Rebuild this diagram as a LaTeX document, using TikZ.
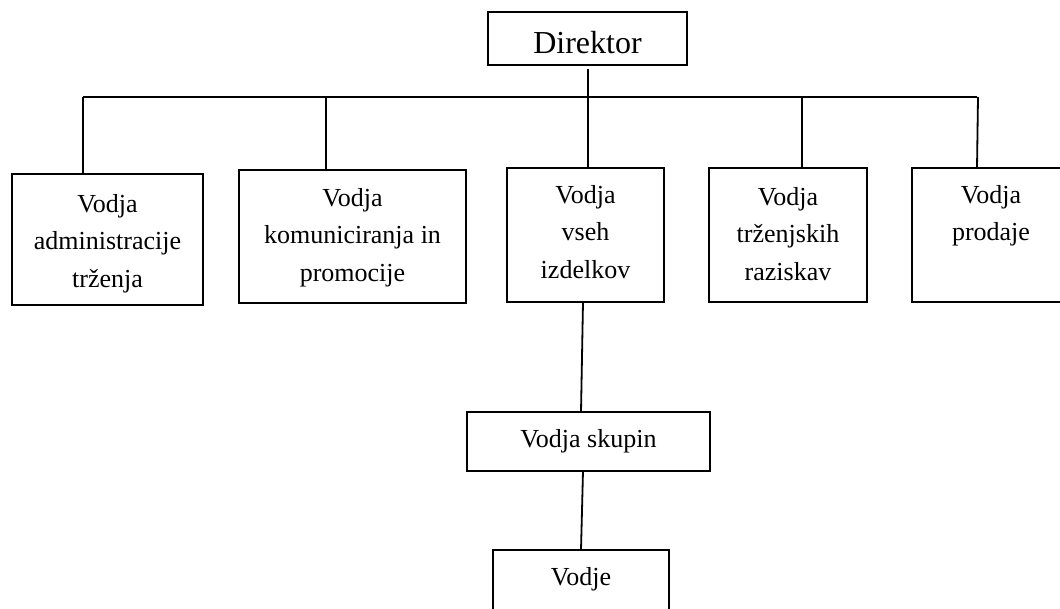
\documentclass[tikz,border=0pt]{standalone}
\usepackage{fontspec}
\setmainfont{Liberation Serif}
\usetikzlibrary{calc}
% box content: width, height, first-baseline drop, text
\newcommand{\orgtext}[4]{\parbox[c][#2][t]{#1}{\centering\fontsize{26}{37.5}\selectfont\rule{0pt}{#3}#4}}
\begin{document}
\begin{tikzpicture}[x=1pt,y=-1pt,
  orgbox/.style={draw,line width=1.8pt,inner sep=0pt,outer sep=0pt},
  link/.style={line width=1.8pt}]
\useasboundingbox (0,0) rectangle (1060,608);
\fill[white] (0,0) rectangle (1060,608);

% top of the chart
\node[orgbox] (dir) at (587.5,38.5)
  {\parbox[c][53pt][t]{199pt}{\centering\fontsize{32}{38}\selectfont\rule{0pt}{41pt}Direktor}};

% second level
\node[orgbox] (admin) at (107.5,239.5) {\orgtext{191pt}{131pt}{38pt}{Vodja\\administracije\\trženja}};
\node[orgbox] (komun) at (352.5,236.5) {\orgtext{227pt}{133pt}{36pt}{Vodja\\komuniciranja in\\promocije}};
\node[orgbox] (izdel) at (585.5,235) {\orgtext{157pt}{134pt}{35pt}{Vodja\\vseh\\izdelkov}};
\node[orgbox] (razis) at (788,235) {\orgtext{158pt}{134pt}{37pt}{Vodja\\trženjskih\\raziskav}};
\node[orgbox] (prod) at (991,235) {\orgtext{158pt}{134pt}{35pt}{Vodja\\prodaje}};

% lower levels
\node[orgbox] (skup) at (588.5,441.5) {\orgtext{243pt}{59pt}{35pt}{Vodja skupin}};
\node[orgbox] (vodje) at (581,580) {\orgtext{176pt}{60pt}{35pt}{Vodje}};

% horizontal bus
\coordinate (busL) at (83,97);
\coordinate (busR) at (977,97);
\coordinate (busA) at (326,97);
\coordinate (busD) at (802,97);
\draw[link] (busL) -- (busR);

% connectors
\draw[link] ($(dir.south)+(0.5,4)$) -- ($(dir.south |- izdel.north)+(0.5,0)$);
\draw[link] (busL) -- (busL |- admin.north);
\draw[link] (busA) -- (busA |- komun.north);
\draw[link] (busD) -- (busD |- razis.north);
\draw[link] ($(busR)+(1,0)$) -- ($(busR |- prod.north)+(0,0)$);
\draw[link] ($(izdel.south)+(-2.5,0)$) -- ($(skup.north)+(-7.5,0)$);
\draw[link] ($(skup.south)+(-5.5,0)$) -- (vodje.north);
\end{tikzpicture}
\end{document}
